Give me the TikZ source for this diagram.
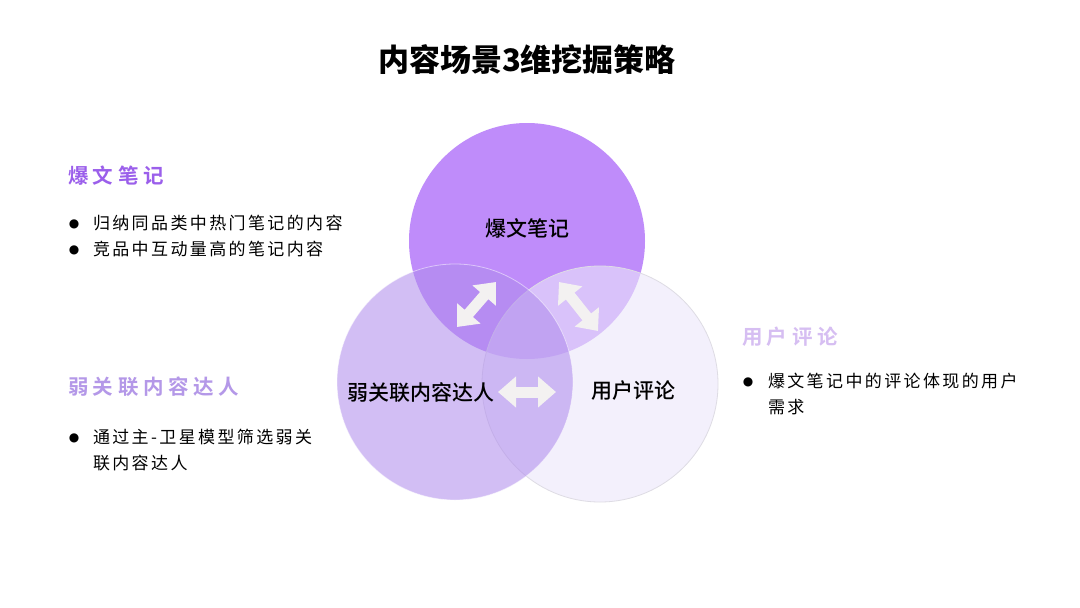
\documentclass[tikz,border=0pt]{standalone}
\usepackage{fontspec}
\usetikzlibrary{arrows.meta,positioning}
\newfontfamily\cjk{Noto Sans CJK SC}[BoldFont={Noto Sans CJK SC Bold}]
\newfontfamily\cjkmed{Noto Sans CJK SC Medium}
\newfontfamily\cjkblack{Noto Sans CJK SC Black}
\newfontfamily\symfont{DejaVu Sans}
\definecolor{topfill}{RGB}{191,140,250}
\definecolor{leftfill}{RGB}{176,141,237}
\definecolor{rightfill}{RGB}{235,230,250}
\definecolor{ringgray}{RGB}{222,220,228}
\definecolor{arrowwhite}{RGB}{243,241,241}
\definecolor{headA}{RGB}{155,95,235}
\definecolor{headB}{RGB}{180,152,232}
\definecolor{headC}{RGB}{214,190,242}

\begin{document}
\begin{tikzpicture}[
  x=1pt,y=-1pt,
  every node/.style={inner sep=0pt,outer sep=0pt},
  ring/.style={circle,minimum size=236pt},
  title/.style={font=\cjkblack\fontsize{31}{36}\selectfont},
  label/.style={font=\cjkmed\fontsize{21}{24}\selectfont},
  heading/.style={anchor=west,
    font=\cjk\bfseries\fontsize{20.5}{24}\selectfont\addfontfeature{LetterSpace=22}},
  item/.style={anchor=north west,align=left,
    font=\cjk\fontsize{17}{26}\selectfont\addfontfeature{LetterSpace=14}},
  dot/.style={font=\symfont\fontsize{12}{12}\selectfont},
  link/.style={arrowwhite,line width=11pt,
    {Triangle[width=30pt,length=18pt]}-{Triangle[width=30pt,length=18pt]}}]
  \useasboundingbox (0,0) rectangle (1080,608);
  \fill[white] (0,0) rectangle (1080,608);

  \node[title] (head) at (527,60) {内容场景3维挖掘策略};

  % three overlapping circles
  \node[ring,fill=topfill] (notes) at (527,241) {};
  \node[ring,fill=rightfill,fill opacity=0.6,draw=ringgray,line width=0.8pt] (reviews) at (600,384) {};
  \node[ring,fill=leftfill,fill opacity=0.57,draw=white,draw opacity=0.5,line width=0.8pt] (creators) at (455,382) {};

  \node[label] (notesl) at (527,228) {爆文笔记};
  \node[label] (creatorsl) at (421,393) {弱关联内容达人};
  \node[label] (reviewsl) at (633,391) {用户评论};

  \coordinate (a1) at (457,327);
  \coordinate (a2) at (496,282);
  \coordinate (b1) at (559,282);
  \coordinate (b2) at (598,331);
  \coordinate (c1) at (498,392);
  \coordinate (c2) at (556,392);
  \draw[link] (a1) -- (a2);
  \draw[link] (b1) -- (b2);
  \draw[link] (c1) -- (c2);

  % side notes
  \node[heading,text=headA] (hnotes) at (68,176) {爆文笔记};
  \node[dot] (d1) at (74,224) {●};
  \node[item] (i1) at (93,215.5) {归纳同品类中热门笔记的内容};
  \node[dot] (d2) at (74,250) {●};
  \node[item] (i2) at (93,241.5) {竞品中互动量高的笔记内容};

  \node[heading,text=headB] (hcreators) at (68,387) {弱关联内容达人};
  \node[dot] (d3) at (74,438) {●};
  \node[item] (i3) at (93,429.5) {通过主-卫星模型筛选弱关\\联内容达人};

  \node[heading,text=headC] (hreviews) at (742,337) {用户评论};
  \node[dot] (d4) at (748,382) {●};
  \node[item] (i4) at (768,373.5) {爆文笔记中的评论体现的用户\\需求};
\end{tikzpicture}
\end{document}
